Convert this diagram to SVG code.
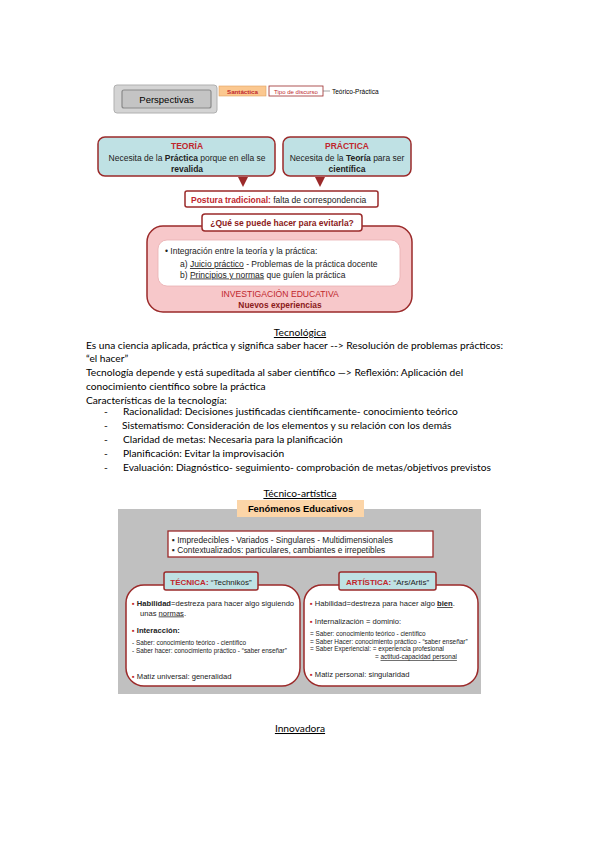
<svg xmlns="http://www.w3.org/2000/svg" width="599" height="848" viewBox="0 0 599 848">
<style>
.d{font-family:"Liberation Sans",Arial,sans-serif}
.b{font-family:Lato,"Liberation Sans",sans-serif;font-size:10.2px;fill:#000}
.red{fill:#c0272d}
.dr{fill:#8b1a1a}
.bx{stroke:#9b2a2a;stroke-width:1.5}
.teal{fill:#bfe1e4}
.t{font-size:7.6px;fill:#222}
.s{font-size:6.4px;fill:#222}
</style>
<rect width="599" height="848" fill="#fff"/>

<g id="perspectivas">
<rect x="114" y="85" width="103" height="28" rx="3" fill="#d4d4d4" stroke="#b0b0b0"/>
<rect x="122" y="90" width="89" height="18" rx="2" fill="#c4c4c4" stroke="#8a8a8a" stroke-width="1.2"/>
<text x="166.5" y="103" class="d" font-size="9.5" text-anchor="middle" fill="#000">Perspectivas</text>
</g>
<g id="santactica">
<rect x="219" y="86" width="47" height="10" fill="#fbc890" stroke="#e0a060" stroke-width="0.6"/>
<text x="242.5" y="93.5" class="d red" font-size="6.2" font-weight="bold" text-anchor="middle">Santáctica</text>
</g>
<g id="tipo">
<rect x="269" y="86" width="54" height="10" fill="#fff" stroke="#9b2a2a" stroke-width="0.8"/>
<text x="296" y="93.5" class="d red" font-size="6" text-anchor="middle">Tipo de discurso</text>
</g>
<text x="332" y="93.5" class="d" font-size="6.5" fill="#000">Teórico-Práctica</text>

<g id="teoria">
<rect x="98" y="137" width="177" height="39" rx="7" class="teal bx"/>
<text x="187" y="149" class="d red" font-size="8.5" font-weight="bold" text-anchor="middle">TEORÍA</text>
<text x="187" y="160.5" class="d" font-size="8.5" text-anchor="middle" fill="#222">Necesita de la <tspan font-weight="bold">Práctica</tspan> porque en ella se</text>
<text x="187" y="172" class="d" font-size="8.5" font-weight="bold" text-anchor="middle" fill="#222">revalida</text>
</g>
<g id="practica">
<rect x="283" y="137" width="128" height="39" rx="7" class="teal bx"/>
<text x="347" y="149" class="d red" font-size="8.5" font-weight="bold" text-anchor="middle">PRÁCTICA</text>
<text x="347" y="160.5" class="d" font-size="8.5" text-anchor="middle" fill="#222">Necesita de la <tspan font-weight="bold">Teoría</tspan> para ser</text>
<text x="347" y="172" class="d" font-size="8.5" font-weight="bold" text-anchor="middle" fill="#222">científica</text>
</g>
<g id="connectors">
<polygon points="238,177 248,177 243,187" fill="#9b2a2a"/>
<polygon points="315,177 325,177 320,187" fill="#9b2a2a"/>
<line x1="323" y1="91" x2="330" y2="91" stroke="#666" stroke-width="0.6"/>
</g>
<g id="postura">
<rect x="185" y="191" width="193" height="16" rx="2" fill="#fff" class="bx" stroke-width="1.2"/>
<text x="191" y="202.5" class="d" font-size="8.5" fill="#222"><tspan class="red" font-weight="bold">Postura tradicional:</tspan> falta de correspondencia</text>
</g>

<g id="investigacion">
<rect x="147" y="226" width="265" height="86" rx="16" fill="#f7c8ca" class="bx"/>
<rect x="158" y="240" width="242" height="46" rx="9" fill="#fff" stroke="#e8b0b2" stroke-width="0.8"/>
<text x="165" y="254" class="d" font-size="8.5" fill="#222">• Integración entre la teoría y la práctica:</text>
<text x="180" y="267" class="d" font-size="8.5" fill="#222">a) <tspan text-decoration="underline">Juicio práctico</tspan> - Problemas de la práctica docente</text>
<text x="180" y="277.5" class="d" font-size="8.5" fill="#222">b) <tspan text-decoration="underline">Principios y normas</tspan> que guíen la práctica</text>
<text x="280" y="297" class="d red" font-size="8.6" text-anchor="middle">INVESTIGACIÓN EDUCATIVA</text>
<text x="280" y="308" class="d dr" font-size="8.4" font-weight="bold" text-anchor="middle">Nuevos experiencias</text>
</g>
<g id="pregunta">
<rect x="202" y="214" width="160" height="17" rx="3" fill="#fff" class="bx" stroke-width="1.2"/>
<text x="282" y="226" class="d dr" font-size="8.5" font-weight="bold" text-anchor="middle">¿Qué se puede hacer para evitarla?</text>
</g>

<g id="tecnologica">
<text x="300" y="336" class="b" text-anchor="middle" text-decoration="underline">Tecnológica</text>
<text x="86" y="348.5" class="b">Es una ciencia aplicada, práctica y significa saber hacer --&gt; Resolución de problemas prácticos:</text>
<text x="86" y="362" class="b">“el hacer”</text>
<text x="86" y="375.5" class="b">Tecnología depende y está supeditada al saber científico —&gt; Reflexión: Aplicación del</text>
<text x="86" y="389.5" class="b">conocimiento científico sobre la práctica</text>
<text x="86" y="403.5" class="b">Características de la tecnología:</text>
<text x="104" y="414.5" class="b">-</text><text x="123" y="414.5" class="b">Racionalidad: Decisiones justificadas científicamente- conocimiento teórico</text>
<text x="104" y="428.5" class="b">-</text><text x="122" y="428.5" class="b">Sistematismo: Consideración de los elementos y su relación con los demás</text>
<text x="104" y="442.5" class="b">-</text><text x="123" y="442.5" class="b">Claridad de metas: Necesaria para la planificación</text>
<text x="104" y="456.5" class="b">-</text><text x="123" y="456.5" class="b">Planificación: Evitar la improvisación</text>
<text x="104" y="470.5" class="b">-</text><text x="123" y="470.5" class="b">Evaluación: Diagnóstico- seguimiento- comprobación de metas/objetivos previstos</text>
<text x="300" y="497" class="b" text-anchor="middle" text-decoration="underline">Técnico-artística</text>
</g>

<g id="panel">
<rect x="118" y="509" width="363" height="185" fill="#c0c0c0"/>
</g>
<g id="fenomenos">
<rect x="237" y="500" width="127" height="17" fill="#fcd5a8"/>
<text x="300.5" y="512" class="d" font-size="9.4" font-weight="bold" text-anchor="middle" fill="#000">Fenómenos Educativos</text>
</g>
<g id="rasgos">
<rect x="168" y="531" width="265" height="26" fill="#fff" stroke="#9b2a2a" stroke-width="1.3"/>
<text x="172" y="542.5" class="d" font-size="8.3" fill="#222">▪ Impredecibles - Variados - Singulares - Multidimensionales</text>
<text x="172" y="553" class="d" font-size="8.3" fill="#222">▪ Contextualizados: particulares, cambiantes e irrepetibles</text>
</g>
<g id="tecnica">
<rect x="126" y="585" width="174" height="101" rx="18" fill="#fff" class="bx"/>
<rect x="164" y="572" width="94" height="18" rx="2" class="teal bx" stroke-width="1.2"/>
<text x="211" y="584.5" class="d" font-size="8" text-anchor="middle" fill="#222"><tspan class="red" font-weight="bold">TÉCNICA:</tspan> “Technikós”</text>
<text x="132" y="606" class="d t"><tspan class="red">▪</tspan> <tspan font-weight="bold">Habilidad</tspan>=destreza para hacer algo siguiendo</text>
<text x="140" y="615.5" class="d t">unas <tspan text-decoration="underline">normas</tspan>.</text>
<text x="132" y="633" class="d t"><tspan class="red">▪</tspan> <tspan font-weight="bold">Interacción:</tspan></text>
<text x="132" y="645" class="d s">- Saber: conocimiento teórico - científico</text>
<text x="132" y="652.5" class="d s">- Saber hacer: conocimiento práctico - “saber enseñar”</text>
<text x="132" y="678.5" class="d t"><tspan class="red">▪</tspan> Matiz universal: generalidad</text>
</g>
<g id="artistica">
<rect x="304" y="585" width="174" height="101" rx="18" fill="#fff" class="bx"/>
<rect x="339" y="572" width="97" height="18" rx="2" class="teal bx" stroke-width="1.2"/>
<text x="387.5" y="584.5" class="d" font-size="8" text-anchor="middle" fill="#222"><tspan class="red" font-weight="bold">ARTÍSTICA:</tspan> “Ars/Artis”</text>
<text x="310" y="606" class="d t"><tspan class="red">▪</tspan> Habilidad=destreza para hacer algo <tspan text-decoration="underline" font-weight="bold">bien</tspan>.</text>
<text x="310" y="623.5" class="d t"><tspan class="red">▪</tspan> Internalización = dominio:</text>
<text x="310" y="636" class="d s">= Saber: conocimiento teórico - científico</text>
<text x="310" y="643.5" class="d s">= Saber Hacer: conocimiento práctico - “saber enseñar”</text>
<text x="310" y="651" class="d s">= Saber Experiencial:  = experiencia profesional</text>
<text x="375" y="659" class="d s">= <tspan text-decoration="underline">actitud-capacidad personal</tspan></text>
<text x="310" y="676.5" class="d t"><tspan class="red">▪</tspan> Matiz personal: singularidad</text>
</g>

<text x="300" y="732" class="b" text-anchor="middle" text-decoration="underline">Innovadora</text>
</svg>
